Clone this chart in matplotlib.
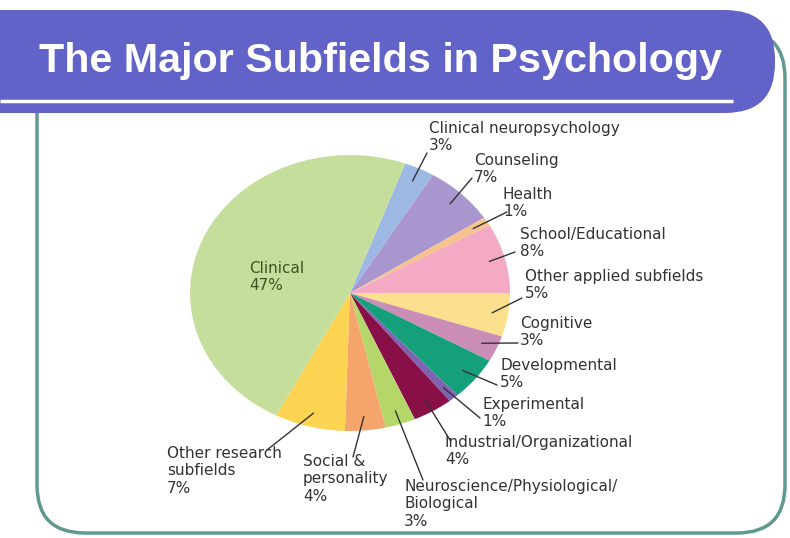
import numpy as np
import matplotlib.pyplot as plt
from matplotlib.patches import FancyBboxPatch, ConnectionPatch

# slices, clockwise from the top (Clinical last)
fields = ["Clinical neuropsychology", "Counseling", "Health", "School/Educational",
          "Other applied subfields", "Cognitive", "Developmental", "Experimental",
          "Industrial/Organizational", "Neuroscience/Physiological/\nBiological",
          "Social &\npersonality", "Other research\nsubfields", "Clinical"]
shares = [3, 7, 1, 8, 5, 3, 5, 1, 4, 3, 4, 7, 47]
colors = ["#9db8e3", "#a996cf", "#f6c38c", "#f4aac4", "#fde08e", "#c98db6",
          "#14a07a", "#7f63b0", "#880f47", "#b5d76a", "#f5a46b", "#fdd452",
          "#c6de9c"]

# label layout (pixels, top-left of text) and where each leader line starts
label_xy = [(429, 121), (474, 153), (503, 187), (520, 227), (525, 269), (520, 316),
            (500, 358), (482, 397), (445, 435), (404, 479), (303, 454), (167, 446),
            (249, 261)]
line_from = [(427, 153), (472, 178), (507, 212), (515, 252), (522, 298), (518, 343),
             (497, 385), (480, 418), (450, 440), (423, 480), (353, 457), (267, 450),
             None]

W, H = 790, 538
fig = plt.figure(figsize=(W / 100, H / 100), dpi=100)
bg = fig.add_axes([0, 0, 1, 1])
bg.set_xlim(0, W)
bg.set_ylim(H, 0)
bg.axis("off")

# frame + banner
frame = FancyBboxPatch((37, 30), 748, 503, boxstyle="round,pad=0,rounding_size=48",
                       fc="white", ec="#5f9990", lw=2.5, zorder=1)
bg.add_patch(frame)
banner = FancyBboxPatch((-80, 10), 855, 103, boxstyle="round,pad=0,rounding_size=50",
                        fc="#6163c9", ec="none", zorder=2)
bg.add_patch(banner)
bg.plot([0, 733], [101, 101], color="white", lw=2.5, zorder=3, solid_capstyle="butt")
bg.text(381, 61, "The Major Subfields in Psychology", color="white",
        fontsize=29.7, fontweight="bold", family="Liberation Sans",
        ha="center", va="center", zorder=4)

# pie (ellipse: center 350,293 ; rx 160 ; ry 138 px)
cx, cy, rx, ry = 350, 293, 160, 138
ax = fig.add_axes([(cx - rx) / W, (H - cy - ry) / H, 2 * rx / W, 2 * ry / H])
wedges, _ = ax.pie(shares, colors=colors, startangle=69.8, counterclock=False,
                   wedgeprops=dict(linewidth=0))
ax.set_aspect("auto")
ax.set_xlim(-1, 1)
ax.set_ylim(-1, 1)

for i, (w, name, v) in enumerate(zip(wedges, fields, shares)):
    x, y = label_xy[i]
    col = "#3e5424" if name == "Clinical" else "#333333"
    ax.text(x, y, f"{name}\n{v}%", color=col, fontsize=11, transform=bg.transData,
            ha="left", va="top", linespacing=1.2, zorder=6, clip_on=False)
    if line_from[i] is None:
        continue
    mid = np.deg2rad((w.theta1 + w.theta2) / 2)
    inner = (0.9 * np.cos(mid), 0.9 * np.sin(mid))
    con = ConnectionPatch(xyA=line_from[i], coordsA=bg.transData,
                          xyB=inner, coordsB=ax.transData,
                          color="#333333", lw=1, zorder=7)
    fig.add_artist(con)

fig.savefig("out.png", dpi=100)
